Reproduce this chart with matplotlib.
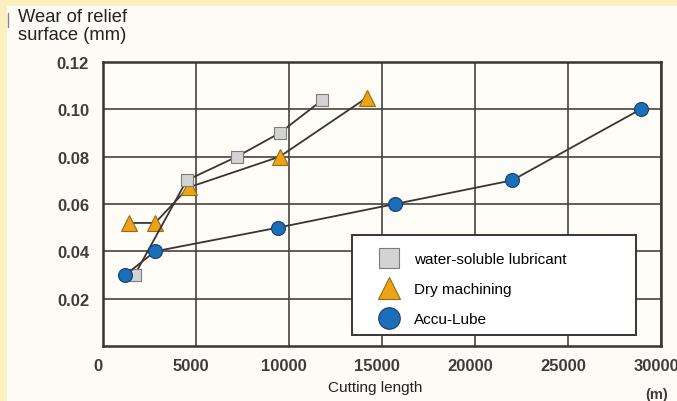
import matplotlib.pyplot as plt
import matplotlib.transforms as mtransforms
from matplotlib.patches import Rectangle

plt.rcParams['font.family'] = ['Liberation Sans', 'DejaVu Sans']

# data (cutting length in m, wear in mm)
water_x = [1700, 4500, 7200, 9500, 11800]
water_y = [0.030, 0.070, 0.080, 0.090, 0.104]
dry_x = [1400, 2800, 4600, 9500, 14200]
dry_y = [0.052, 0.052, 0.067, 0.080, 0.105]
accu_x = [1200, 2800, 9400, 15700, 22000, 28900]
accu_y = [0.030, 0.040, 0.050, 0.060, 0.070, 0.100]

xticks = [0, 5000, 10000, 15000, 20000, 25000, 30000]
yticks = [0.02, 0.04, 0.06, 0.08, 0.10, 0.12]

line_col = '#3a3533'

fig = plt.figure(figsize=(6.77, 4.02), dpi=100, facecolor='#fdefbf')
# pale page area (scan look)
fig.patches.append(Rectangle((7/677, 0), 1, 1 - 7/402, transform=fig.transFigure,
                             facecolor='#fcfbf6', edgecolor='none', zorder=-5))

ax = fig.add_axes([103/677, 55/402, 558/677, 284/402])
ax.set_facecolor('#fdfcf7')

ax.plot(dry_x, dry_y, color=line_col, lw=1.3, marker='^', ms=12,
        mfc='#eba418', mec='#9b6a10', mew=0.8, zorder=3, label='Dry machining')
ax.plot(water_x, water_y, color=line_col, lw=1.3, marker='s', ms=8.5,
        mfc='#d3d3d3', mec='#7d7d7d', mew=0.8, zorder=4, label='water-soluble lubricant')
ax.plot(accu_x, accu_y, color=line_col, lw=1.3, marker='o', ms=10,
        mfc='#1b6fb8', mec='#173d6a', mew=0.8, zorder=5, label='Accu-Lube')

ax.set_xlim(0, 30000)
ax.set_ylim(0, 0.12)
ax.set_xticks(xticks)
ax.set_xticklabels([str(t) for t in xticks])
ax.set_yticks(yticks)
ax.set_yticklabels(['%.2f' % t for t in yticks])
ax.tick_params(length=0, labelsize=12, labelcolor='#3d3d3d')
ax.tick_params(axis='x', pad=9)
ax.tick_params(axis='y', pad=10)
shift = mtransforms.ScaledTranslation(-5/100, 0, fig.dpi_scale_trans)
for lab in ax.get_xticklabels():
    lab.set_fontweight('bold')
    lab.set_transform(lab.get_transform() + shift)
for lab in ax.get_yticklabels():
    lab.set_fontweight('bold')

ax.grid(True, color='#4a4240', lw=1.2)
ax.set_axisbelow(True)
for s in ax.spines.values():
    s.set_color('#3b3431')
    s.set_linewidth(1.8)

ax.set_xlabel('Cutting length', fontsize=11, color='#222222')
ax.xaxis.set_label_coords((375 - 103) / 558, -(388 - 347) / 284)
ax.xaxis.label.set_va('center')
fig.text(657/677, 1 - 395/402, '(m)', ha='center', va='center',
         fontsize=10.5, fontweight='bold', color='#3d3d3d')
fig.text(18/677, 1 - 9/402, 'Wear of relief\nsurface (mm)', ha='left', va='top',
         fontsize=13.2, color='#222222', linespacing=1.1)
fig.add_artist(plt.Line2D([8/677, 8/677], [1 - 14/402, 1 - 28/402],
                          color='#888888', lw=1))

# legend box drawn as its own frame, entries placed inside it
ax.add_patch(Rectangle((0.446, 0.039), 0.509, 0.352, transform=ax.transAxes,
                       facecolor='white', edgecolor='#3b3431', lw=1.4, zorder=9))
h, l = ax.get_legend_handles_labels()
order = [1, 0, 2]
leg = ax.legend([h[i] for i in order], [l[i] for i in order],
                loc='upper left', bbox_to_anchor=(0.512, 0.33),
                handlelength=0, handletextpad=1.65, markerscale=1,
                fontsize=11, frameon=False, borderpad=0,
                labelspacing=1.05, borderaxespad=0)
for lh, ms in zip(leg.legend_handles, [14, 16, 15.5]):
    lh.set_linestyle('none')
    lh.set_markersize(ms)
leg.set_zorder(10)

fig.savefig('out.png', dpi=100, facecolor=fig.get_facecolor())
